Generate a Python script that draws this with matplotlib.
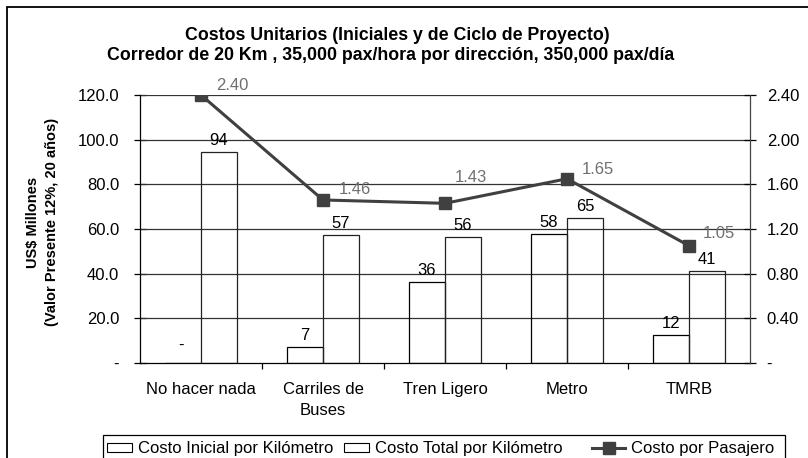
import matplotlib
matplotlib.use('Agg')
import matplotlib.pyplot as plt
from matplotlib.patches import Rectangle, Patch
from matplotlib.lines import Line2D
import numpy as np

plt.rcParams['font.family'] = ['Liberation Sans', 'DejaVu Sans']

# ---------------- data ----------------
categories = ['No hacer nada', 'Carriles de\nBuses', 'Tren Ligero', 'Metro', 'TMRB']
costo_inicial = [0.0, 7.0, 36.1, 57.9, 12.5]
costo_total = [94.4, 57.4, 56.3, 65.0, 41.3]
costo_pasajero = [2.40, 1.46, 1.43, 1.65, 1.05]
inicial_labels = ['-', '7', '36', '58', '12']
total_labels = ['94', '57', '56', '65', '41']
pasajero_labels = ['2.40', '1.46', '1.43', '1.65', '1.05']
left_ticks = [0, 20, 40, 60, 80, 100, 120]
left_ticklabels = ['-', '20.0', '40.0', '60.0', '80.0', '100.0', '120.0']
right_ticks = [0.0, 0.4, 0.8, 1.2, 1.6, 2.0, 2.4]
right_ticklabels = ['-', '0.40', '0.80', '1.20', '1.60', '2.00', '2.40']
series_names = ['Costo Inicial por Kilómetro', 'Costo Total por Kilómetro', 'Costo por Pasajero']
title_lines = ['Costos Unitarios (Iniciales y de Ciclo de Proyecto)',
               'Corredor de 20 Km , 35,000 pax/hora por dirección, 350,000 pax/día']
ylabel_text = 'US$ Millones\n(Valor Presente 12%, 20 años)'
# label offsets (pixels) for line labels
line_label_offsets = [(15, 10), (16, 10), (10, 26), (15, 9), (14, 12)]

W, H = 808, 458
fig = plt.figure(figsize=(W / 100, H / 100), dpi=100)
ax = fig.add_axes([140 / W, 1 - 363 / H, 610 / W, 268 / H])
ax2 = ax.twinx()

x = np.arange(len(categories))
bw = 0.295
ax.bar(x - bw / 2, costo_inicial, bw, facecolor='none', edgecolor='black', linewidth=0.9, zorder=3)
ax.bar(x + bw / 2, costo_total, bw, facecolor='none', edgecolor='#222222', linewidth=0.9, zorder=3)

for xi, v, lab in zip(x - bw / 2, costo_inicial, inicial_labels):
    ax.annotate(lab, (xi, v), xytext=(-2 if v == 0 else 0, 4 if v > 0 else 10),
                textcoords='offset pixels',
                ha='center', va='bottom', fontsize=12, color='black', zorder=5)
for xi, v, lab in zip(x + bw / 2, costo_total, total_labels):
    ax.annotate(lab, (xi, v), xytext=(0, 4), textcoords='offset pixels',
                ha='center', va='bottom', fontsize=12, color='black', zorder=5)

ax.set_xlim(-0.5, len(categories) - 0.5)
ax.set_ylim(0, 120)
ax.set_yticks(left_ticks)
ax.set_yticklabels(left_ticklabels, fontsize=12)
for yv in left_ticks[1:]:
    ax.axhline(yv, color='#333333', linewidth=0.9, zorder=2)

ax.set_xticks(np.arange(len(categories) - 1) + 0.5)
ax.set_xticklabels([])
ax.set_xticks(x, minor=True)
ax.set_xticklabels(categories, minor=True, fontsize=12)
for t in ax.get_xticklabels(minor=True):
    t.set_linespacing(1.45)
ax.tick_params(axis='x', which='major', direction='out', length=4, width=0.9)
ax.tick_params(axis='x', which='minor', length=0, pad=14)
ax.tick_params(axis='y', direction='inout', length=8, width=0.9, pad=11)

ax2.plot(x, costo_pasajero, color='#404040', linewidth=2.2, marker='s', markersize=8,
         zorder=6)
for xi, v, lab, off in zip(x, costo_pasajero, pasajero_labels, line_label_offsets):
    ax2.annotate(lab, (xi, v), xytext=off, textcoords='offset pixels', ha='left', va='center',
                 fontsize=12, color='#707070', zorder=7)
ax2.set_ylim(0, 2.4)
ax2.set_yticks(right_ticks)
ax2.set_yticklabels(right_ticklabels, fontsize=12)
ax2.tick_params(axis='y', direction='inout', length=8, width=0.9, pad=8)

for a in (ax, ax2):
    a.spines['top'].set_visible(False)
ax.spines['right'].set_visible(False)
ax2.spines['left'].set_visible(False)
ax2.spines['bottom'].set_visible(False)
ax.spines['left'].set_linewidth(0.9)
ax.spines['bottom'].set_linewidth(0.9)
ax2.spines['right'].set_linewidth(0.9)
ax2.spines['right'].set_color('#444444')
ax.patch.set_visible(False)

fig.text(397 / W, 1 - 35 / H, title_lines[0], ha='center', va='center', fontsize=12.8,
         fontweight='bold')
fig.text(391 / W, 1 - 55 / H, title_lines[1], ha='center', va='center', fontsize=12.8,
         fontweight='bold')
fig.text(42.5 / W, 1 - 222 / H, ylabel_text, rotation=90, ha='center', va='center',
         fontsize=10.5, fontweight='bold', multialignment='center', linespacing=1.45)

# legend: frame + three entries placed like the reference
handles = [Patch(facecolor='white', edgecolor='black', linewidth=0.8),
           Patch(facecolor='white', edgecolor='black', linewidth=0.8),
           Line2D([], [], color='#404040', linewidth=2.2, marker='s', markersize=8)]
leg_x = [107, 344, 592]
leg_hl = [1.5, 1.5, 2.0]
for h, name, lx, hl in zip(handles, series_names, leg_x, leg_hl):
    lg = fig.legend([h], [name], loc='center left', bbox_to_anchor=(lx / W, 1 - 449 / H),
                    fontsize=12, frameon=False, handlelength=hl, handleheight=0.5,
                    handletextpad=0.35, borderpad=0, borderaxespad=0)
fig.add_artist(Rectangle((103 / W, -0.05), 682 / W, (458 - 435) / H + 0.05,
                         transform=fig.transFigure, fill=False, edgecolor='black',
                         linewidth=0.9))

fig.add_artist(Rectangle((7 / W, -0.1), 1.2, 1 - 7 / H + 0.1, transform=fig.transFigure,
                         fill=False, edgecolor='black', linewidth=1.3))

fig.savefig('out.png', dpi=100, facecolor='white')
